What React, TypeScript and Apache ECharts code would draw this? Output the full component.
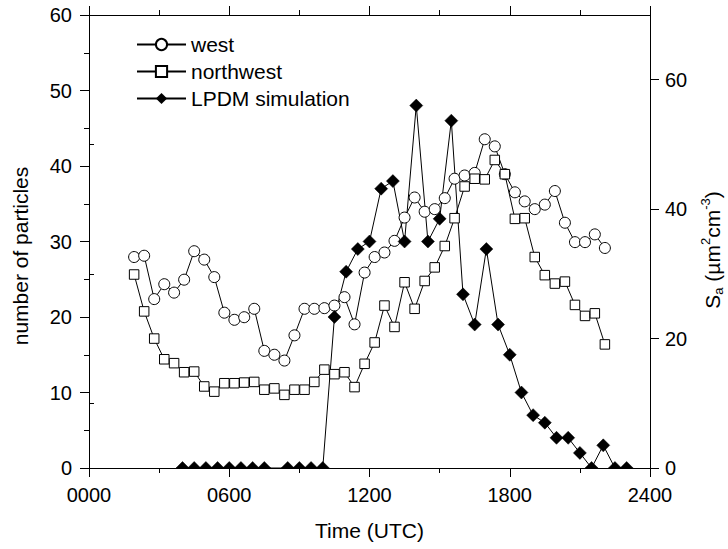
import React, { useEffect, useRef } from "react";
import * as echarts from "echarts";

const FONT = "'Liberation Sans', Arial, sans-serif";

// time (decimal hours) of west / northwest measurements
const TIME_WN = [1.93, 2.36, 2.79, 3.22, 3.64, 4.07, 4.5, 4.93, 5.36, 5.79, 6.22, 6.64, 7.07, 7.5, 7.93, 8.36, 8.79, 9.22, 9.64, 10.07, 10.5, 10.93, 11.36, 11.79, 12.22, 12.64, 13.07, 13.5, 13.93, 14.36, 14.79, 15.22, 15.64, 16.07, 16.5, 16.93, 17.36, 17.79, 18.22, 18.64, 19.07, 19.5, 19.93, 20.36, 20.79, 21.22, 21.64, 22.07];
// S_a (µm² cm⁻³), right axis
const WEST = [32.6, 32.8, 26.1, 28.4, 27.1, 29.1, 33.5, 32.2, 29.5, 24.0, 22.9, 23.3, 24.6, 18.1, 17.5, 16.6, 20.5, 24.6, 24.6, 24.7, 25.1, 26.4, 22.2, 30.2, 32.6, 33.3, 35.1, 38.7, 41.8, 39.6, 40.0, 41.7, 44.7, 45.2, 45.6, 50.8, 49.7, 45.4, 42.6, 41.2, 40.0, 40.7, 42.8, 37.9, 34.9, 34.9, 36.1, 34.0];
const NORTHWEST = [29.9, 24.2, 20.0, 16.8, 16.2, 14.8, 14.9, 12.6, 11.8, 13.1, 13.1, 13.2, 13.3, 12.1, 12.3, 11.3, 12.1, 12.1, 13.3, 15.2, 14.5, 14.8, 12.5, 16.1, 19.4, 25.1, 21.8, 28.7, 24.6, 28.9, 31.0, 34.3, 38.6, 43.5, 44.7, 44.6, 47.6, 45.4, 38.5, 38.6, 32.6, 29.8, 28.5, 28.8, 25.2, 23.5, 23.9, 19.1];

// LPDM simulation: number of particles, left axis
const TIME_LPDM = [4.0, 4.5, 5.0, 5.5, 6.0, 6.5, 7.0, 7.5, 8.5, 9.0, 9.5, 10.0, 10.5, 11.0, 11.5, 12.0, 12.5, 13.0, 13.5, 14.0, 14.5, 15.0, 15.5, 16.0, 16.5, 17.0, 17.5, 18.0, 18.5, 19.0, 19.5, 20.0, 20.5, 21.0, 21.5, 22.0, 22.5, 23.0];
const LPDM = [0, 0, 0, 0, 0, 0, 0, 0, 0, 0, 0, 0, 20, 26, 29, 30, 37, 38, 30, 48, 30, 33, 46, 23, 19, 29, 19, 15, 10, 7, 6, 4, 4, 2, 0, 3, 0, 0];

const X_TICK_LABEL = (v: number) => String(Math.round(v * 100)).padStart(4, "0");
const LEFT_NAME = "number of particles";
const X_NAME = "Time (UTC)";
const RIGHT_MAJOR = [0, 20, 40, 60];
const RIGHT_MINOR = [10, 30, 50, 70];

export default function App() {
  const ref = useRef<HTMLDivElement>(null);
  useEffect(() => {
    if (!ref.current) return;
    const chart = echarts.init(ref.current, undefined, { renderer: "svg" });
    const black = "#000";
    const axisBase = {
      axisLine: { show: true, onZero: false, lineStyle: { color: black, width: 1 } },
      splitLine: { show: false },
      minorSplitLine: { show: false },
    };
    const xCommon = {
      ...axisBase,
      type: "value",
      min: 0,
      max: 24,
      interval: 6,
      axisTick: { show: true, inside: false, length: 9, lineStyle: { color: black } },
      minorTick: { show: true, splitNumber: 2, length: 5, lineStyle: { color: black } },
    };
    const option: any = {
      animation: false,
      textStyle: { fontFamily: FONT, color: black },
      grid: { left: 89, right: 78, top: 15, bottom: 81 },
      legend: {
        orient: "vertical",
        left: 131,
        top: 29,
        itemWidth: 49,
        itemHeight: 14,
        itemGap: 6,
        selectedMode: false,
        textStyle: { fontSize: 21, fontFamily: FONT, color: black },
        data: ["west", "northwest", "LPDM simulation"],
      },
      xAxis: [
        {
          ...xCommon,
          position: "bottom",
          name: X_NAME,
          nameLocation: "middle",
          nameGap: 52,
          nameTextStyle: { fontSize: 21, fontFamily: FONT, color: black },
          axisLabel: { fontSize: 20, color: black, margin: 17, formatter: X_TICK_LABEL, fontFamily: FONT },
        },
        {
          ...xCommon,
          position: "top",
          axisLabel: { show: false },
        },
      ],
      yAxis: [
        {
          ...axisBase,
          type: "value",
          position: "left",
          min: 0,
          max: 60,
          interval: 10,
          axisTick: { show: true, inside: false, length: 9, lineStyle: { color: black } },
          minorTick: { show: true, splitNumber: 2, length: 5, lineStyle: { color: black } },
          axisLabel: { fontSize: 20, color: black, margin: 17, fontFamily: FONT },
        },
        {
          ...axisBase,
          type: "value",
          position: "right",
          min: 0,
          max: 70,
          interval: 10,
          axisTick: { show: true, inside: false, length: 9, customValues: RIGHT_MAJOR, lineStyle: { color: black } },
          axisLabel: { fontSize: 20, color: black, margin: 15, customValues: RIGHT_MAJOR, fontFamily: FONT },
        },
        {
          type: "value",
          position: "right",
          min: 0,
          max: 70,
          interval: 10,
          axisLine: { show: false },
          splitLine: { show: false },
          axisTick: { show: true, inside: false, length: 5, customValues: RIGHT_MINOR, lineStyle: { color: black } },
          axisLabel: { show: false },
        },
      ],
      graphic: [
        {
          type: "text",
          x: 20,
          y: 256,
          rotation: Math.PI / 2,
          style: {
            text: LEFT_NAME,
            fontSize: 21,
            fontFamily: FONT,
            fill: black,
            align: "center",
            verticalAlign: "middle",
            textAlign: "center",
            textVerticalAlign: "middle",
          },
        },
        {
          type: "text",
          x: 712,
          y: 250,
          rotation: Math.PI / 2,
          style: {
            text: "{n|S}{sub|a}{n| (\u00b5m}{sup|2}{n|cm}{sup|-3}{n|)}",
            fill: black,
            align: "center",
            verticalAlign: "middle",
            textAlign: "center",
            textVerticalAlign: "middle",
            rich: {
              n: { fontSize: 21, fontFamily: FONT, fill: black, lineHeight: 26, verticalAlign: "middle" },
              sub: { fontSize: 13, fontFamily: FONT, fill: black, lineHeight: 26, verticalAlign: "bottom" },
              sup: { fontSize: 13, fontFamily: FONT, fill: black, lineHeight: 26, verticalAlign: "top" },
            },
          },
        },
      ],
      series: [
        {
          name: "LPDM simulation",
          type: "line",
          xAxisIndex: 0,
          yAxisIndex: 0,
          data: TIME_LPDM.map((t, i) => [t, LPDM[i]]),
          symbol: "diamond",
          symbolSize: 13,
          showSymbol: false,
          lineStyle: { color: black, width: 1 },
          itemStyle: { color: black },
          z: 2,
        },
        {
          name: "west",
          type: "line",
          xAxisIndex: 0,
          yAxisIndex: 1,
          data: TIME_WN.map((t, i) => [t, WEST[i]]),
          symbol: "circle",
          symbolSize: 11,
          lineStyle: { color: black, width: 1 },
          itemStyle: { color: "#fff", borderColor: black, borderWidth: 1 },
          z: 3,
        },
        {
          name: "northwest",
          type: "line",
          xAxisIndex: 0,
          yAxisIndex: 1,
          data: TIME_WN.map((t, i) => [t, NORTHWEST[i]]),
          symbol: "rect",
          symbolSize: 9.5,
          lineStyle: { color: black, width: 1 },
          itemStyle: { color: "#fff", borderColor: black, borderWidth: 1 },
          z: 3,
        },
        {
          type: "custom",
          xAxisIndex: 0,
          yAxisIndex: 0,
          silent: true,
          z: 4,
          data: TIME_LPDM.map((t, i) => [t, LPDM[i]]),
          encode: { x: 0, y: 1 },
          renderItem: (params: any, api: any) => {
            const p = api.coord([api.value(0), api.value(1)]);
            const cs = params.coordSys;
            const yb = cs.y + cs.height;
            const h = 6.5;
            const cy = (v: number) => Math.min(v, yb);
            return {
              type: "polygon",
              shape: {
                points: [
                  [p[0], cy(p[1] - h)],
                  [p[0] + h, cy(p[1])],
                  [p[0], cy(p[1] + h)],
                  [p[0] - h, cy(p[1])],
                ],
              },
              style: { fill: black, stroke: black, lineWidth: 0.5 },
            };
          },
        },
      ],
    };
    chart.setOption(option);
    return () => chart.dispose();
  }, []);
  return (
    <div
      ref={ref}
      style={{ position: "fixed", left: 0, top: 0, width: 728, height: 549, background: "#fff" }}
    />
  );
}
